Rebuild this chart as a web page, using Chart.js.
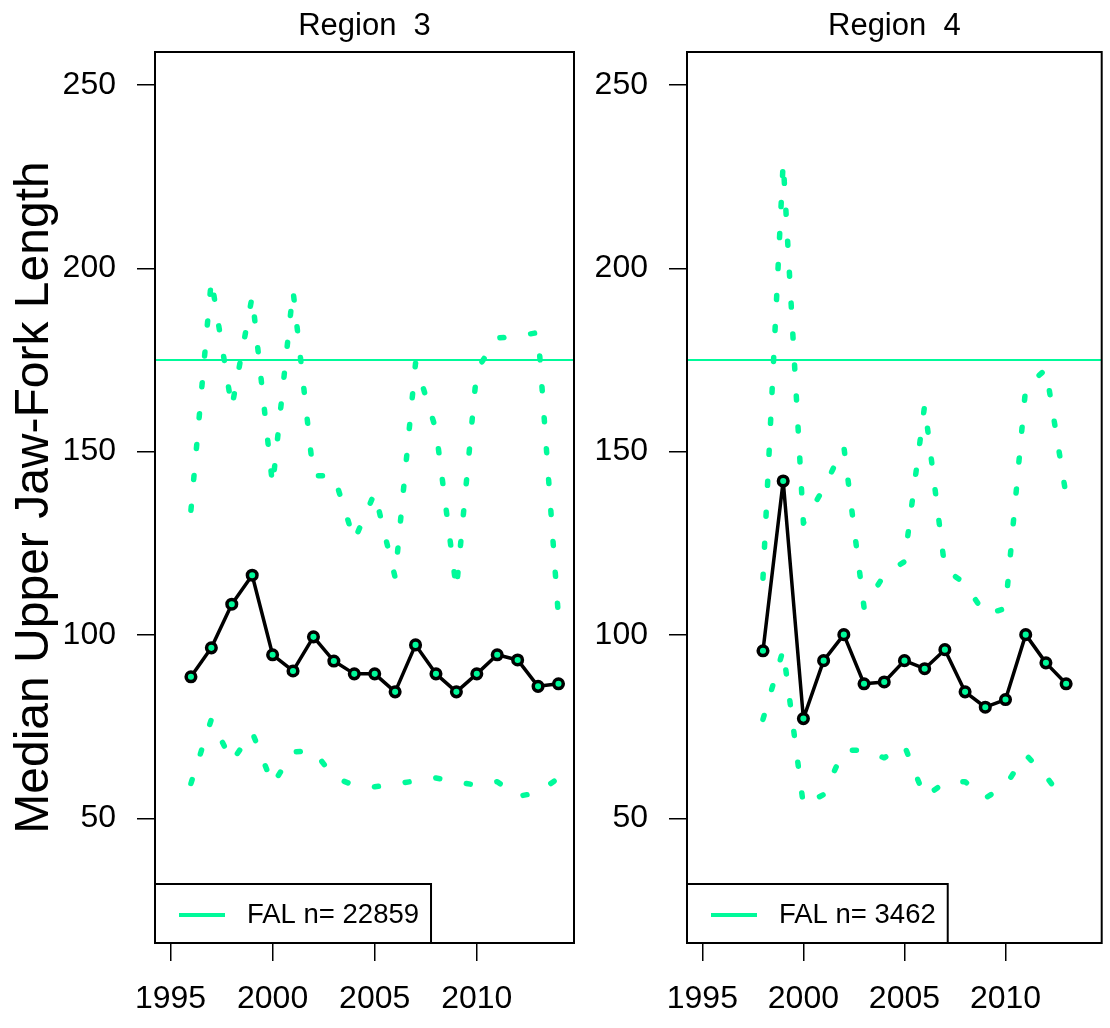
<!DOCTYPE html>
<html><head><meta charset="utf-8">
<script src="https://cdn.jsdelivr.net/npm/chart.js@4.4.0/dist/chart.umd.min.js"></script>
<style>
html,body{margin:0;padding:0;background:#fff;width:1110px;height:1028px;overflow:hidden}
#c3{position:absolute;left:0;top:0}
#c4{position:absolute;left:560px;top:0}
</style></head><body>
<canvas id="c3" width="600" height="1028"></canvas>
<canvas id="c4" width="550" height="1028"></canvas>
<script>
// ---- data ----
const years3  = [1996,1997,1998,1999,2000,2001,2002,2003,2004,2005,2006,2007,2008,2009,2010,2011,2012,2013,2014];
const median3 = [88.6,96.5,108.4,116.3,94.6,90.2,99.5,92.9,89.4,89.4,84.5,97.3,89.4,84.5,89.4,94.6,93.2,86.0,86.7];
const upper3  = [134,197,162,192.4,140.7,194,143.4,143.5,125.8,138.8,115.7,174.2,156,112.4,172.3,181,181.5,182.5,104.8];
const lower3  = [59.5,77,65.5,73.5,59.2,68.1,68.5,61.2,59,58.6,59.4,60.2,61,60,59,60,56,57,61];

const years4  = [1998,1999,2000,2001,2002,2003,2004,2005,2006,2007,2008,2009,2010,2011,2012,2013];
const median4 = [95.7,142,77.2,93,100.1,86.7,87.2,93,90.8,96,84.5,80.3,82.4,100.1,92.4,86.7];
const upper4  = [115.5,229,130.5,140,151.4,107.5,116.4,120,162.7,118,114,105.5,107.3,167.5,172.5,138];
const lower4  = [77,96,53.5,56.5,68.6,68.6,66.5,69.8,55.8,59.8,60,55.5,59,67.4,61.5,54];

const xTicks = [1995,2000,2005,2010];
const yTicks = [50,100,150,200,250];
const refLength = 175;
const panelTitles = ['Region  3','Region  4'];
const legendLabels = ['FAL n= 22859','FAL n= 3462'];
const yAxisTitle = 'Median Upper Jaw-Fork Length';

// ---- style ----
const GREEN = 'rgb(0,250,154)';
const FONT = '"Liberation Sans", Arial, sans-serif';
const X_MIN = 1994.24, X_MAX = 2014.76, Y_MIN = 16, Y_MAX = 259;

function pts(xs, ys){ return xs.map((x,i)=>({x:x, y:ys[i]})); }

const framePlugin = {
  id:'frame',
  afterDraw(chart, args, opts){
    const {ctx, chartArea:a} = chart;
    ctx.save();
    // panel title
    ctx.fillStyle = '#000';
    ctx.font = '31px ' + FONT;
    ctx.textAlign = 'center';
    ctx.textBaseline = 'middle';
    ctx.fillText(opts.title, (a.left+a.right)/2, 26);
    // frame
    ctx.strokeStyle = '#000';
    ctx.lineWidth = 2;
    ctx.strokeRect(a.left, a.top, a.right-a.left, a.bottom-a.top);
    // legend box
    ctx.font = '27.5px ' + FONT;
    const tw = ctx.measureText(opts.label).width;
    const bw = 92 + tw + 12, bh = 59;
    const x0 = a.left, y0 = a.bottom - bh;
    ctx.fillStyle = '#fff';
    ctx.fillRect(x0, y0, bw, bh);
    ctx.strokeRect(x0, y0, bw, bh);
    ctx.strokeStyle = GREEN;
    ctx.lineWidth = 4;
    ctx.beginPath();
    ctx.moveTo(x0+24, y0+31); ctx.lineTo(x0+70, y0+31);
    ctx.stroke();
    ctx.fillStyle = '#000';
    ctx.textBaseline = 'middle';
    ctx.textAlign = 'left';
    ctx.fillText(opts.label, x0+92, y0+31);
    ctx.restore();
  }
};

function makeChart(id, years, med, up, lo, title, legendText, showYTitle, yAxisWidth, padRight){
  return new Chart(document.getElementById(id), {
    type:'line',
    data:{ datasets:[
      {data:pts(years,med), borderColor:'#000', borderWidth:3.5, borderJoinStyle:'round',
       pointRadius:4.8, pointBorderWidth:3.5,
       pointBackgroundColor:GREEN, pointBorderColor:'#000', tension:0, order:0},
      {data:pts(years,up), borderColor:GREEN, borderWidth:5.5, borderDash:[4,27], borderCapStyle:'round',
       borderJoinStyle:'round', pointRadius:0, tension:0, order:1},
      {data:pts(years,lo), borderColor:GREEN, borderWidth:5.5, borderDash:[4,27], borderCapStyle:'round',
       borderJoinStyle:'round', pointRadius:0, tension:0, order:2},
      {data:[{x:X_MIN,y:refLength},{x:X_MAX,y:refLength}], borderColor:GREEN, borderWidth:2,
       pointRadius:0, tension:0, order:3}
    ]},
    options:{
      responsive:false, animation:false, devicePixelRatio:1,
      layout:{padding:{left:0,right:padRight,top:52,bottom:0}},
      plugins:{
        legend:{display:false}, tooltip:{enabled:false}, title:{display:false},
        frame:{label:legendText, title:title}
      },
      scales:{
        x:{type:'linear', min:X_MIN, max:X_MAX,
           afterBuildTicks:s=>{ s.ticks = xTicks.map(v=>({value:v})); },
           afterFit:s=>{ s.height = 85; },
           grid:{display:true, drawOnChartArea:false, drawTicks:true, tickLength:18, color:'#000', lineWidth:1.5},
           border:{display:false},
           ticks:{color:'#000', font:{family:FONT,size:32}, padding:19, maxRotation:0, autoSkip:false,
                  callback:v=>String(v)}},
        y:{type:'linear', min:Y_MIN, max:Y_MAX,
           afterBuildTicks:s=>{ s.ticks = yTicks.map(v=>({value:v})); },
           afterFit:s=>{ s.width = yAxisWidth; },
           grid:{display:true, drawOnChartArea:false, drawTicks:true, tickLength:18, color:'#000', lineWidth:1.5},
           border:{display:false},
           title:{display:showYTitle, text:yAxisTitle, color:'#000', font:{family:FONT,size:48}, padding:{top:6,bottom:0}},
           ticks:{color:'#000', font:{family:FONT,size:32}, padding:21, autoSkip:false, callback:v=>String(v)}}
      }
    },
    plugins:[framePlugin]
  });
}

makeChart('c3', years3, median3, upper3, lower3, panelTitles[0], legendLabels[0], true, 155, 26);
makeChart('c4', years4, median4, upper4, lower4, panelTitles[1], legendLabels[1], false, 127, 4);
</script>
</body></html>
